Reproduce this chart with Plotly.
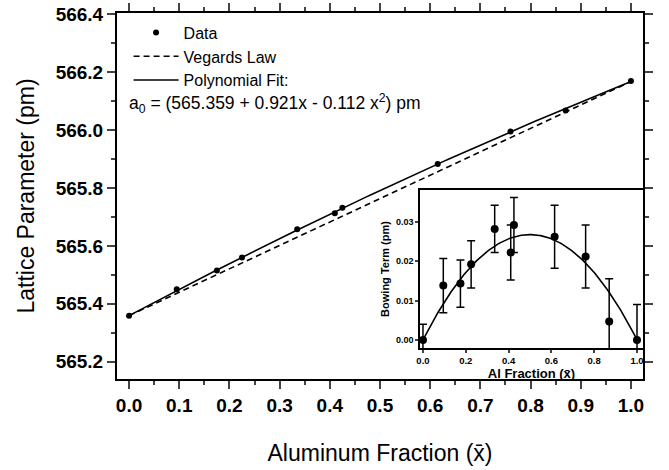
import numpy as np
import plotly.graph_objects as go

# ---- data ----
al_fraction = [0.0, 0.095, 0.175, 0.225, 0.335, 0.41, 0.425, 0.615, 0.76, 0.87, 1.0]
lattice_pm = [565.359, 565.450, 565.515, 565.560, 565.658, 565.713, 565.732, 565.883, 565.995, 566.068, 566.170]
bowing_pm = [0.0, 0.0138, 0.0143, 0.0192, 0.0282, 0.0222, 0.0292, 0.0262, 0.0212, 0.0047, 0.0]
bowing_err = [0.004, 0.0069, 0.006, 0.006, 0.006, 0.007, 0.007, 0.008, 0.008, 0.0108, 0.009]

fit_coeffs = [565.359, 0.921, -0.112]      # a0 = c0 + c1 x + c2 x^2
vegard_end = [565.359, 566.168]            # lattice parameter at x=0 and x=1
bowing_coef = 0.107                        # inset fit: b x (1-x)

x_tick_vals = [0.0, 0.1, 0.2, 0.3, 0.4, 0.5, 0.6, 0.7, 0.8, 0.9, 1.0]
y_tick_vals = [565.2, 565.4, 565.6, 565.8, 566.0, 566.2, 566.4]

xs = np.linspace(0, 1, 201)
fit_curve = fit_coeffs[0] + fit_coeffs[1] * xs + fit_coeffs[2] * xs ** 2
vegard_line = vegard_end[0] + (vegard_end[1] - vegard_end[0]) * xs
bow_curve = bowing_coef * xs * (1 - xs)

FONT = "Liberation Sans, Arial, sans-serif"

fig = go.Figure()
fig.add_trace(go.Scatter(x=al_fraction, y=lattice_pm, mode="markers", name="Data",
                         marker=dict(color="black", size=6)))
fig.add_trace(go.Scatter(x=xs, y=vegard_line, mode="lines", name="Vegards Law",
                         line=dict(color="black", width=1.6, dash="6px,4px")))
fig.add_trace(go.Scatter(x=xs, y=fit_curve, mode="lines", name="Polynomial Fit:",
                         line=dict(color="black", width=1.6)))

# inset
fig.add_trace(go.Scatter(x=al_fraction, y=bowing_pm, mode="markers", showlegend=False,
                         xaxis="x2", yaxis="y2",
                         marker=dict(color="black", size=8),
                         error_y=dict(type="data", array=bowing_err, color="black",
                                      thickness=1.5, width=4)))
fig.add_trace(go.Scatter(x=xs, y=bow_curve, mode="lines", showlegend=False,
                         xaxis="x2", yaxis="y2", line=dict(color="black", width=1.6)))

fig.update_layout(
    width=669, height=470,
    margin=dict(l=117, r=26, t=13, b=91, autoexpand=False),
    paper_bgcolor="white", plot_bgcolor="white",
    font=dict(family=FONT, color="black"),
    showlegend=True,
    legend=dict(x=0.022, y=0.993, xanchor="left", yanchor="top",
                bgcolor="rgba(0,0,0,0)", font=dict(size=16, family=FONT),
                itemwidth=45, tracegroupgap=0),
    xaxis=dict(domain=[0, 1], range=[-0.024, 1.024], tickvals=x_tick_vals,
               tickformat=".1f", ticks="outside", ticklen=8, tickwidth=2,
               minor=dict(dtick=0.05, tick0=0, ticks="outside", ticklen=4, tickwidth=2),
               showline=True, linewidth=2, linecolor="black", mirror="ticks",
               showgrid=False, zeroline=False, automargin=False,
               tickfont=dict(size=19, weight="bold", family=FONT),
               title=dict(text="Aluminum Fraction (x\u0304)", font=dict(size=23), standoff=30)),
    yaxis=dict(domain=[0, 1], range=[565.14, 566.405], tickvals=y_tick_vals,
               tickformat=".1f", ticks="outside", ticklen=8, tickwidth=2,
               minor=dict(dtick=0.1, tick0=565.2, ticks="outside", ticklen=4, tickwidth=2),
               showline=True, linewidth=2, linecolor="black", mirror="ticks",
               showgrid=False, zeroline=False, automargin=False,
               tickfont=dict(size=19, weight="bold", family=FONT),
               title=dict(text="Lattice Parameter (pm)", font=dict(size=23), standoff=15)),
    xaxis2=dict(domain=[0.576, 1.0], anchor="y2", range=[-0.014, 1.028],
                tickvals=[0, 0.2, 0.4, 0.6, 0.8, 1.0], tickformat=".1f",
                ticks="outside", ticklen=3, tickwidth=1.5,
                showline=True, linewidth=1.5, linecolor="black", mirror=True,
                showgrid=False, zeroline=False, automargin=False,
                tickfont=dict(size=9.5, weight="bold", family=FONT),
                title=dict(text="Al Fraction (x\u0304)", font=dict(size=13, weight="bold"), standoff=4)),
    yaxis2=dict(domain=[0.085, 0.516], anchor="x2", range=[-0.00203, 0.03804],
                tickvals=[0.0, 0.01, 0.02, 0.03], tickformat=".2f",
                ticks="outside", ticklen=3, tickwidth=1.5,
                showline=True, linewidth=1.5, linecolor="black", mirror=True,
                showgrid=False, zeroline=False, automargin=False,
                tickfont=dict(size=9, weight="bold", family=FONT),
                title=dict(text="Bowing Term (pm)", font=dict(size=11, weight="bold"), standoff=4)),
    annotations=[dict(xref="paper", yref="paper", x=0.019, y=0.752, xanchor="left",
                      yanchor="middle", showarrow=False,
                      text="a<sub>0</sub> = (565.359 + 0.921x - 0.112 x<sup>2</sup>) pm",
                      font=dict(size=17.5, family=FONT))],
)

fig.write_html("out.html", config={"displayModeBar": False},
               post_script="document.body.style.margin='0';")
